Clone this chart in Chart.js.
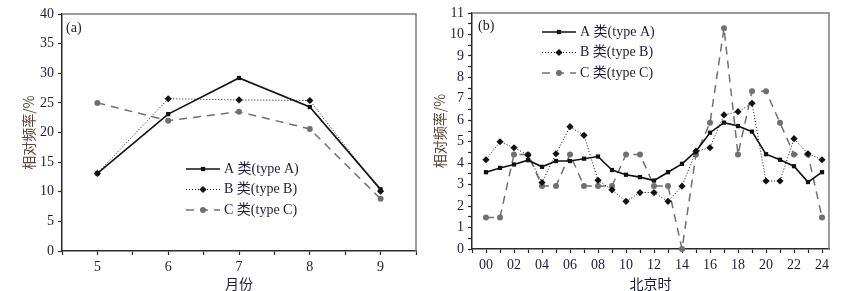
<!DOCTYPE html>
<html>
<head>
<meta charset="utf-8">
<script src="https://cdn.jsdelivr.net/npm/chart.js@4.4.1/dist/chart.umd.min.js"></script>
<style>
    html, body { margin: 0; padding: 0; background: #fff; }
    #wrap { position: relative; width: 853px; height: 291px; }
    .box { position: absolute; top: 0; height: 291px; }
</style>
</head>
<body>
<div id="wrap">
    <div class="box" style="left:0;width:430px"><canvas id="monthChart"></canvas></div>
    <div class="box" style="left:430px;width:423px"><canvas id="hourChart"></canvas></div>
</div>
<script>
// (a) monthly relative frequency, %
const months = [5, 6, 7, 8, 9];
const monthA = [13.1, 23.1, 29.2, 24.3, 10.4];
const monthB = [13.1, 25.7, 25.5, 25.4, 10.1];
const monthC = [25.0, 22.0, 23.5, 20.6, 8.8];

// (b) hourly relative frequency (Beijing time), %
const hours = [0, 1, 2, 3, 4, 5, 6, 7, 8, 9, 10, 11, 12, 13, 14, 15, 16, 17, 18, 19, 20, 21, 22, 23, 24];
const hourA = [3.58, 3.78, 3.94, 4.14, 3.83, 4.10, 4.10, 4.21, 4.31, 3.68, 3.46, 3.35, 3.19, 3.58, 3.97, 4.56, 5.42, 5.89, 5.73, 5.47, 4.42, 4.16, 3.86, 3.12, 3.58];
const hourB = [4.16, 5.00, 4.72, 4.38, 3.10, 4.44, 5.70, 5.30, 3.20, 2.76, 2.22, 2.63, 2.63, 2.22, 2.93, 4.56, 4.72, 6.25, 6.40, 6.79, 3.17, 3.17, 5.14, 4.44, 4.16];
const hourC = [1.47, 1.47, 4.41, 4.41, 2.94, 2.94, 4.41, 2.94, 2.94, 2.94, 4.41, 4.41, 2.94, 2.94, 0.00, 4.41, 5.88, 10.29, 4.41, 7.35, 7.35, 5.88, 4.41, 4.41, 1.47];

const seriesLabels = ['A 类(type A)', 'B 类(type B)', 'C 类(type C)'];

const SERIF = '"Liberation Serif", "Times New Roman", "Noto Sans CJK SC", serif';
const CJK = '"Noto Sans CJK SC", "Liberation Serif", sans-serif';
const TEXT = '#1c1c3c';
const AXIS = '#2a2a2a';

Chart.defaults.font.family = SERIF;
Chart.defaults.font.size = 14;
Chart.defaults.color = TEXT;

const styles = [
    { color: '#111', width: 1.6, dash: [], point: 'rect', radius: 3 },
    { color: '#111', width: 1, dash: [1, 2], point: 'rectRot', radius: 3.6 },
    { color: '#707070', width: 1.5, dash: [8, 6], point: 'circle', radius: 3 },
];

function makeDatasets(xs, lists) {
    return lists.map((ys, i) => ({
        label: seriesLabels[i],
        data: xs.map((x, j) => ({ x, y: ys[j] })),
        borderColor: styles[i].color,
        backgroundColor: styles[i].color,
        borderWidth: styles[i].width,
        borderDash: styles[i].dash,
        pointStyle: styles[i].point,
        pointRadius: styles[i].radius,
        pointBorderWidth: 0,
        pointBackgroundColor: styles[i].color,
        tension: 0,
        clip: false,
    }));
}

// grey top/right frame, panel tag and the line+marker legend
const panelDecor = {
    id: 'panelDecor',
    afterDraw(chart, args, opts) {
        const { ctx, chartArea: a } = chart;
        ctx.save();
        ctx.strokeStyle = '#7a7a7a';
        ctx.lineWidth = 1.5;
        ctx.beginPath();
        ctx.moveTo(a.left, a.top);
        ctx.lineTo(a.right, a.top);
        ctx.lineTo(a.right, a.bottom);
        ctx.stroke();

        ctx.fillStyle = TEXT;
        ctx.font = '14px ' + SERIF;
        ctx.textBaseline = 'middle';
        ctx.fillText(opts.tag, opts.tagX, opts.tagY);

        styles.forEach((s, i) => {
            const y = opts.legendY + i * opts.legendGap;
            ctx.save();
            ctx.strokeStyle = s.color;
            ctx.lineWidth = s.width;
            ctx.setLineDash(s.dash);
            ctx.beginPath();
            ctx.moveTo(opts.legendX, y);
            ctx.lineTo(opts.legendX + 34, y);
            ctx.stroke();
            ctx.restore();
            ctx.fillStyle = s.color;
            Chart.helpers.drawPoint(ctx, { pointStyle: s.point, radius: s.radius, borderWidth: 0 }, opts.legendX + 17, y);
            ctx.fillStyle = TEXT;
            ctx.font = '14px ' + SERIF;
            ctx.fillText(seriesLabels[i], opts.legendX + 38, y);
        });
        ctx.restore();
    },
};

function axisGrid() {
    return { drawOnChartArea: false, drawTicks: true, tickLength: 4, tickColor: AXIS, tickWidth: 1.2 };
}

function makeChart(canvas, cfg) {
    return new Chart(canvas, {
        type: 'line',
        data: { datasets: makeDatasets(cfg.xs, cfg.lists) },
        plugins: [panelDecor],
        options: {
            responsive: true,
            maintainAspectRatio: false,
            animation: false,
            layout: { padding: { top: cfg.padTop, right: cfg.padRight, left: 0, bottom: 0 } },
            plugins: {
                legend: { display: false },
                tooltip: { enabled: false },
                panelDecor: cfg.decor,
            },
            scales: {
                x: {
                    type: 'linear',
                    min: cfg.xMin,
                    max: cfg.xMax,
                    grid: axisGrid(),
                    border: { color: AXIS, width: 1.5 },
                    ticks: {
                        stepSize: cfg.xStep,
                        includeBounds: false,
                        maxRotation: 0,
                        autoSkip: false,
                        padding: 4,
                        callback: cfg.xLabel,
                    },
                    title: {
                        display: true,
                        text: cfg.xTitle,
                        color: TEXT,
                        font: { family: CJK, size: 14, lineHeight: 1 },
                        padding: { top: 0, bottom: 0 },
                    },
                    afterFit: (s) => { s.height = cfg.xHeight; },
                },
                y: {
                    min: 0,
                    max: cfg.yMax,
                    grid: axisGrid(),
                    border: { color: AXIS, width: 1.5 },
                    ticks: {
                        stepSize: cfg.yStep,
                        autoSkip: false,
                        padding: 4,
                        callback: cfg.yLabel,
                    },
                    title: {
                        display: true,
                        text: '相对频率/%',
                        color: '#5e4536',
                        font: { family: CJK, size: 14, lineHeight: 1 },
                        padding: { top: cfg.yTitlePad, bottom: 0 },
                    },
                    afterFit: (s) => { s.width = cfg.yWidth; },
                },
            },
        },
    });
}

makeChart(document.getElementById('monthChart'), {
    xs: months,
    lists: [monthA, monthB, monthC],
    padTop: 14, padRight: 14,
    xMin: 4.5, xMax: 9.5, xStep: 0.5,
    xLabel: (v) => (Number.isInteger(v) ? String(v) : ''),
    xTitle: '月份', xHeight: 40,
    yMax: 40, yStep: 5,
    yLabel: (v) => String(v),
    yWidth: 62, yTitlePad: 22,
    decor: { tag: '(a)', tagX: 66, tagY: 28, legendX: 186, legendY: 169, legendGap: 20.5 },
});

makeChart(document.getElementById('hourChart'), {
    xs: hours,
    lists: [hourA, hourB, hourC],
    padTop: 13, padRight: 24,
    xMin: -1, xMax: 24.5, xStep: 1,
    xLabel: (v) => (v >= 0 && v % 2 === 0 ? String(v).padStart(2, '0') : ''),
    xTitle: '北京时', xHeight: 42,
    yMax: 11, yStep: 0.5,
    yLabel: (v) => (Number.isInteger(v) ? String(v) : ''),
    yWidth: 42, yTitlePad: 3,
    decor: { tag: '(b)', tagX: 48, tagY: 26, legendX: 112, legendY: 32, legendGap: 20.5 },
});
</script>
</body>
</html>
